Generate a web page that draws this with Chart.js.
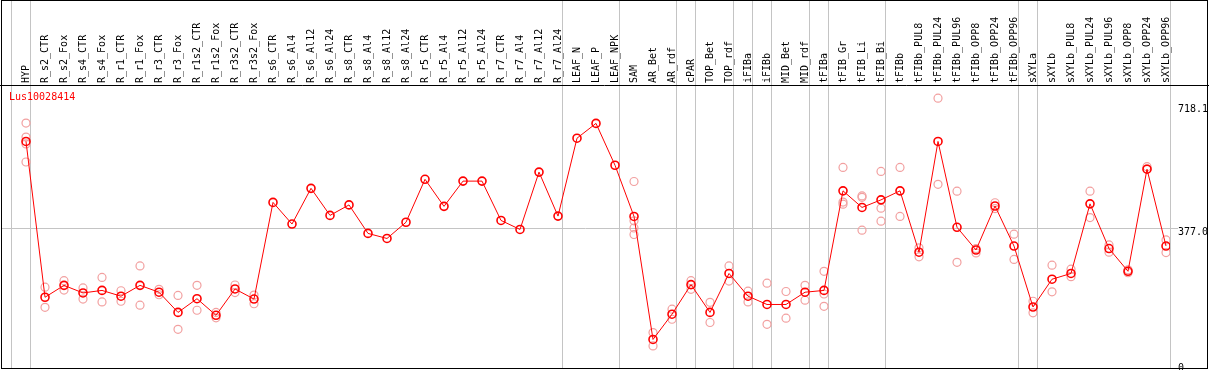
<!DOCTYPE html>
<html>
<head>
<meta charset="utf-8">
<script src="https://cdn.jsdelivr.net/npm/chart.js@4"></script>
<style>
  html, body { margin: 0; padding: 0; background: #fff; }
  canvas { display: block; }
</style>
</head>
<body>
<canvas id="expr" width="1209" height="370"></canvas>
<script>
// ---- data ----
const geneName = 'Lus10028414';

const categories = [
    'HYP', 'R_s2_CTR', 'R_s2_Fox', 'R_s4_CTR', 'R_s4_Fox', 'R_r1_CTR', 'R_r1_Fox', 'R_r3_CTR', 'R_r3_Fox', 'R_r1s2_CTR',
    'R_r1s2_Fox', 'R_r3s2_CTR', 'R_r3s2_Fox', 'R_s6_CTR', 'R_s6_Al4', 'R_s6_Al12', 'R_s6_Al24', 'R_s8_CTR', 'R_s8_Al4', 'R_s8_Al12',
    'R_s8_Al24', 'R_r5_CTR', 'R_r5_Al4', 'R_r5_Al12', 'R_r5_Al24', 'R_r7_CTR', 'R_r7_Al4', 'R_r7_Al12', 'R_r7_Al24', 'LEAF_N',
    'LEAF_P', 'LEAF_NPK', 'SAM', 'AR_Bet', 'AR_rdf', 'cPAR', 'TOP_Bet', 'TOP_rdf', 'iFIBa', 'iFIBb',
    'MID_Bet', 'MID_rdf', 'tFIBa', 'tFIB_Gr', 'tFIB_Li', 'tFIB_Bi', 'tFIBb', 'tFIBb_PUL8', 'tFIBb_PUL24', 'tFIBb_PUL96',
    'tFIBb_OPP8', 'tFIBb_OPP24', 'tFIBb_OPP96', 'sXYLa', 'sXYLb', 'sXYLb_PUL8', 'sXYLb_PUL24', 'sXYLb_PUL96', 'sXYLb_OPP8', 'sXYLb_OPP24',
    'sXYLb_OPP96'
];

// a separator line follows each of these samples (null = before the first one)
const groupEnds = [null, 'HYP', 'R_r7_Al24', 'LEAF_NPK', 'AR_rdf', 'cPAR', 'TOP_rdf', 'iFIBa', 'iFIBb',
    'MID_rdf', 'tFIBa', 'tFIB_Bi', 'tFIBb_OPP96', 'sXYLa', 'sXYLb_OPP96'];

const meanValues = [
    617, 185, 218, 197, 204, 188, 218, 199, 143, 181,
    135, 208, 180, 448, 388, 487, 412, 441, 362, 348,
    393, 512, 437, 507, 507, 398, 373, 532, 410, 626,
    667, 551, 409, 68, 138, 220, 143, 251, 188, 165,
    165, 199, 204, 480, 434, 455, 480, 310, 617, 379,
    316, 438, 327, 158, 235, 251, 444, 320, 257, 540,
    327
];

// individual replicates (null where none shows)
const rep1 = [
    668, 213, 231, 211, 240, 203, 272, 207, 190, 218,
    143, 219, 191, null, null, null, null, null, null, null,
    null, null, null, null, null, null, null, null, null, null,
    null, null, 506, 87, 152, 231, 171, 272, 202, 224,
    201, 218, 257, 545, 466, 534, 545, 322, 737, 479,
    320, 447, 360, 174, 274, 263, 479, 330, 261, 547,
    344
];
const rep2 = [
    629, 157, 205, 180, 172, 174, 163, 192, 96, 149,
    128, 198, 167, null, null, null, null, null, null, null,
    null, null, null, null, null, null, null, null, null, null,
    null, null, 397, 50, 124, 207, 115, 230, 172, 110,
    127, 177, 194, 449, 462, 432, 409, 297, 498, 282,
    308, 431, 290, 142, 200, 242, 406, 310, 253, 541,
    309
];
const rep3 = [
    610, null, null, null, null, null, null, null, null, null,
    null, null, null, null, null, null, null, null, null, null,
    null, null, null, null, null, null, null, null, null, null,
    null, null, 377, null, null, null, null, null, null, null,
    null, null, 160, 443, 371, 396, null, null, null, null,
    null, null, null, null, null, null, null, null, null, null,
    null
];
const rep4 = [
    560, null, null, null, null, null, null, null, null, null,
    null, null, null, null, null, null, null, null, null, null,
    null, null, null, null, null, null, null, null, null, null,
    null, null, 359, null, null, null, null, null, null, null,
    null, null, null, null, null, null, null, null, null, null,
    null, null, null, null, null, null, null, null, null, null,
    null
];

const yTicks = [0, 377.0, 718.1];

// ---- styling ----
const MONO = 'DejaVu Sans Mono';
const RED = '#ff0000';
const REP_RED = '#f2a0a0';
const SEP_GREY = '#c4c4c4';
const SEP_SHIFT = 4 / 19;   // separator sits a little right of the group's last sample

const toXY = arr => arr.map((v, i) => ({ x: i, y: v }));

const repStyle = {
    type: 'line',
    showLine: false,
    pointStyle: 'circle',
    pointRadius: 4,
    pointBorderWidth: 1.2,
    pointBorderColor: REP_RED,
    pointBackgroundColor: 'transparent',
    borderColor: REP_RED
};

// frame, group separators and gene name
const framePlugin = {
    id: 'frame',
    beforeDatasetsDraw(chart) {
        const { ctx, scales: { x, y } } = chart;
        ctx.save();
        ctx.strokeStyle = SEP_GREY;
        ctx.lineWidth = 1;
        groupEnds.forEach(name => {
            const idx = name === null ? -1 : categories.indexOf(name);
            const px = Math.round(x.getPixelForValue(idx + SEP_SHIFT)) + 0.5;
            ctx.beginPath();
            ctx.moveTo(px, 0);
            ctx.lineTo(px, y.bottom);
            ctx.stroke();
        });
        ctx.restore();
    },
    afterDraw(chart) {
        const { ctx, width, chartArea } = chart;
        ctx.save();
        ctx.strokeStyle = '#000';
        ctx.lineWidth = 1;
        ctx.strokeRect(1.5, 0.5, width - 3, chartArea.bottom);
        ctx.beginPath();
        ctx.moveTo(0, chartArea.top - 0.5);
        ctx.lineTo(width, chartArea.top - 0.5);
        ctx.stroke();

        ctx.fillStyle = RED;
        ctx.font = '10px "' + MONO + '"';
        ctx.textBaseline = 'middle';
        ctx.textAlign = 'left';
        ctx.fillText(geneName, 9, chartArea.top + 11);
        ctx.restore();
    }
};

new Chart(document.getElementById('expr'), {
    type: 'line',
    data: {
        datasets: [
            {
                label: 'mean',
                data: toXY(meanValues),
                borderColor: RED,
                borderWidth: 1,
                pointStyle: 'circle',
                pointRadius: 4,
                pointBorderWidth: 1.6,
                pointBorderColor: RED,
                pointBackgroundColor: 'transparent',
                tension: 0
            },
            { ...repStyle, label: 'rep1', data: toXY(rep1) },
            { ...repStyle, label: 'rep2', data: toXY(rep2) },
            { ...repStyle, label: 'rep3', data: toXY(rep3) },
            { ...repStyle, label: 'rep4', data: toXY(rep4) }
        ]
    },
    options: {
        responsive: false,
        animation: false,
        devicePixelRatio: 1,
        layout: { autoPadding: false, padding: { left: 1, right: 0, top: 0, bottom: 2 } },
        plugins: {
            legend: { display: false },
            tooltip: { enabled: false },
            title: { display: false }
        },
        scales: {
            x: {
                type: 'linear',
                position: 'top',
                min: -1.316,
                max: 60.21,
                afterBuildTicks: s => { s.ticks = categories.map((_, i) => ({ value: i })); },
                afterFit: s => {
                    s.height = 86;
                    s.paddingLeft = 0;
                    s.paddingRight = 0;
                },
                grid: { display: false, drawTicks: false, tickLength: 0 },
                border: { display: false },
                ticks: {
                    autoSkip: false,
                    minRotation: 90,
                    maxRotation: 90,
                    padding: 3,
                    labelOffset: 12,
                    color: '#000',
                    font: { family: MONO, size: 10 },
                    callback: v => categories[v]
                }
            },
            y: {
                position: 'right',
                min: -11.1,
                max: 770.7,
                afterBuildTicks: s => { s.ticks = yTicks.map(v => ({ value: v })); },
                afterFit: s => {
                    s.width = 39;
                    s.paddingTop = 0;
                    s.paddingBottom = 0;
                },
                border: { display: false },
                grid: {
                    drawTicks: true,
                    tickLength: 8,
                    color: c => (c.tick && c.tick.value === 377 ? SEP_GREY : 'transparent')
                },
                ticks: {
                    padding: 0,
                    labelOffset: c => (c.tick && c.tick.value === 0 ? -2 : 4),
                    color: '#000',
                    font: { family: MONO, size: 10 },
                    callback: v => (v === 0 ? '0' : v.toFixed(1))
                }
            }
        }
    },
    plugins: [framePlugin]
});
</script>
</body>
</html>
